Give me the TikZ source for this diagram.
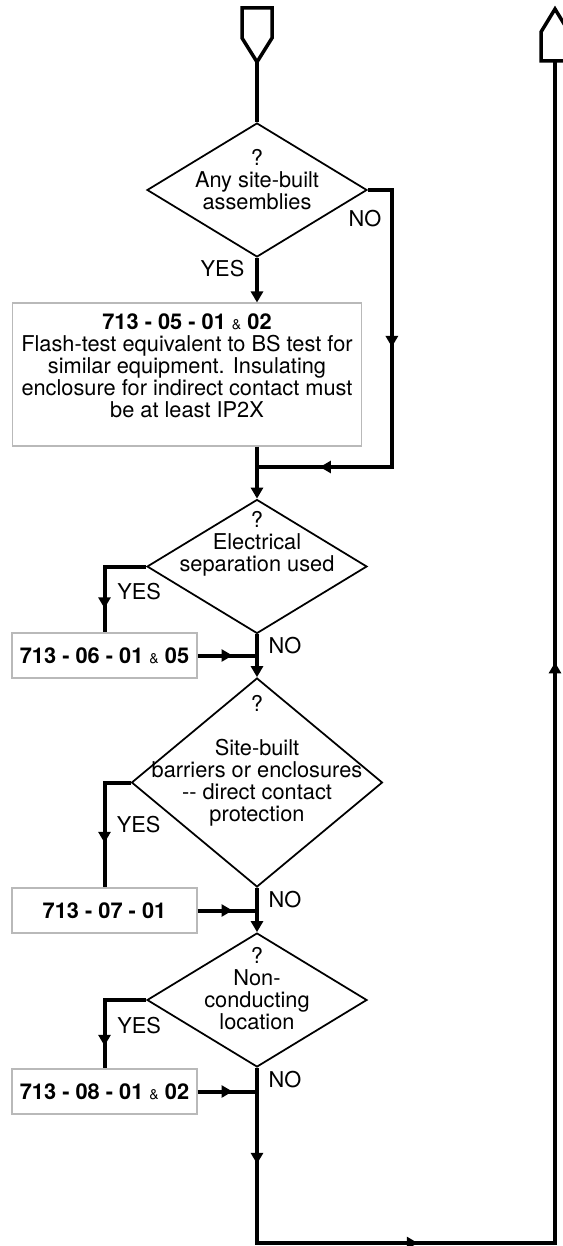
\documentclass[tikz,border=0pt]{standalone}
\usepackage{fontspec}
\setmainfont{TeX Gyre Heros}
\usepackage{tikz}
\usetikzlibrary{positioning,arrows.meta,shapes.geometric,decorations.markings,calc}

\newcommand{\chartfont}{\fontsize{12.4pt}{12.5pt}\selectfont}
\newcommand{\smallamp}{{\mdseries\fontsize{8pt}{8pt}\selectfont\&}}

\tikzset{
  decision/.style={diamond,draw,line width=1pt,inner sep=0pt,
                   minimum width=4.4cm,minimum height=2.68cm},
  qtext/.style={align=center,inner sep=0pt,font=\chartfont},
  rulebox/.style={draw=gray!55,line width=0.6pt,minimum width=3.7cm,
                  minimum height=0.9cm,font=\chartfont\bfseries},
  answer/.style={inner sep=0pt,font=\chartfont},
  flow/.style={line width=0.08cm},
  tipped/.style={flow,->},
  midarrow/.style={flow,postaction={decorate,decoration={markings,
                   mark=at position #1 with {\arrow{>}}}}},
  terminal/.style={line width=0.07cm},
}

\begin{document}
\begin{tikzpicture}[x=0.02cm,y=0.02cm,>={Triangle[length=0.22cm,width=0.24cm]}]
  \useasboundingbox (0,0) rectangle (562,-1246);
  % --- start / return terminals ---
  \draw[terminal] (242,-8) -- (272,-8) -- (272,-38) -- (257,-62) -- (242,-38) -- cycle;
  \coordinate (start) at (257,-62);
  \draw[terminal] (541,-61) -- (541,-32) -- (555,-9) -- (569,-32) -- (569,-61) -- cycle;
  \coordinate (finish) at (555,-61);

  % --- decisions ---
  \node[decision] (q1) at (257,-190) {};
  \node[decision] (q2) at (257,-566.5) {};
  \node[decision,minimum width=5.02cm,minimum height=4.18cm] (q3) at (257,-782.5) {};
  \node[decision] (q4) at (257,-1000) {};
  \node[qtext] (q1t) at ([yshift=0.2cm]q1.center) {?\\Any site-built\\assemblies};
  \node[qtext] (q2t) at ([yshift=0.45cm]q2.center) {?\\Electrical\\separation used};
  \node[qtext] (q3t) at ([yshift=0.43cm]q3.center)
    {?\\[12.5pt]Site-built\\barriers or enclosures\\-{}- direct contact\\protection};
  \node[qtext] (q4t) at ([yshift=0.23cm]q4.center) {?\\Non-\\conducting\\location};

  % --- regulation boxes ---
  \node[rulebox,minimum width=7cm,minimum height=2.86cm] (r05) at (187,-374.5) {};
  \node[qtext] (r05t) at ([yshift=0.17cm]r05.center)
    {\textbf{713 - 05 - 01 \smallamp\ 02}\\Flash-test equivalent to BS test for\\
     similar equipment. Insulating\\enclosure for indirect contact must\\be at least IP2X};
  \node[rulebox] (r06) at (104.5,-655.5) {713 - 06 - 01 \smallamp\ 05};
  \node[rulebox] (r07) at (104.5,-910.5) {713 - 07 - 01};
  \node[rulebox] (r08) at (104.5,-1091.5) {713 - 08 - 01 \smallamp\ 02};

  % --- main line ---
  \coordinate (m1) at (257,-467);
  \coordinate (low) at (257,-1243);
  \draw[flow] (start) -- (q1.north);
  \draw[tipped] (q1.south) -- (q1.south |- r05.north);
  \draw[tipped] (q1.south |- r05.south) -- (q2.north);
  \draw[tipped] (q2.south) -- (q3.north);
  \draw[tipped] (q3.south) -- (q4.north);
  % NO past the first box
  \draw[flow,postaction={decorate,decoration={markings,
        mark=at position 3.62cm with {\arrow{>}},
        mark=at position 7.46cm with {\arrow{>}}}}]
    (q1.east) -- ++(24,0) |- (m1);
  % back up to the return terminal
  \draw[flow,postaction={decorate,decoration={markings,
        mark=at position 1.92cm with {\arrow{>}},
        mark=at position 6.72cm with {\arrow{>}},
        mark=at position 21.08cm with {\arrow{>}}}}]
    (q4.south) -- (low) -| (finish);

  % --- YES branches and returns ---
  \draw[midarrow=1.67cm] (q2.west) -| (r06.north);
  \draw[midarrow=1.73cm] (q3.west) -| (r07.north);
  \draw[midarrow=1.75cm] (q4.west) -| (r08.north);
  \foreach \r/\q in {06/2,07/3,08/4}
    \draw[midarrow=0.7cm] (r\r.east) -- (r\r.east -| q\q.south);

  % --- answers ---
  \node[answer] (yes1) at ([xshift=-0.69cm,yshift=-0.22cm]q1.south) {YES};
  \node[answer] (no1) at ([xshift=-0.06cm,yshift=-0.58cm]q1.east) {NO};
  \foreach \q/\dx/\dy in {2/-0.14/-0.51,3/0.16/-0.84,4/-0.14/-0.52}
    \node[answer] (yes\q) at ([xshift=\dx cm,yshift=\dy cm]q\q.west) {YES};
  \foreach \q in {2,3,4}
    \node[answer] (no\q) at ([xshift=0.56cm,yshift=-0.23cm]q\q.south) {NO};
\end{tikzpicture}
\end{document}
